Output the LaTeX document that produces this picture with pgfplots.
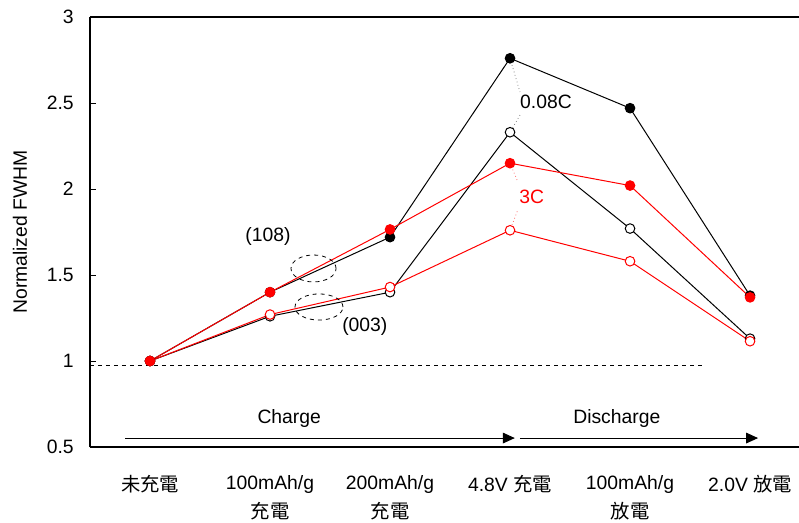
\documentclass[border=0pt]{standalone}
\usepackage{pgfplots}
\pgfplotsset{compat=1.18}
\usepackage{fontspec}
\setmainfont{Liberation Sans}
\newfontfamily\cjk{Noto Sans CJK TC}
\usetikzlibrary{arrows.meta}
\newcommand{\myfont}{\fontsize{14.5}{21.4}\selectfont}
\begin{document}
\begin{tikzpicture}[font=\myfont]
\begin{axis}[
  scale only axis,
  width=531.75pt, height=322.5pt,
  xmin=-0.5, xmax=5.408,
  ymin=0.5, ymax=3,
  axis x line*=bottom,
  axis y line*=left,
  axis line style={line width=0.8pt},
  tick align=inside,
  ytick={0.5,1,1.5,2,2.5,3},
  major tick length=4.5pt,
  xtick={0,1,2,3,4,5},
  x tick style={draw=none},
  minor xtick={0.5,1.5,2.5,3.5,4.5},
  minor tick length=6pt,
  minor x tick style={line width=0.5pt, black},
  y tick style={line width=0.6pt, black},
  xticklabels={{\cjk 未充電}, {100mAh/g\\\cjk 充電}, {200mAh/g\\\cjk 充電}, {4.8V {\cjk 充電}}, {100mAh/g\\\cjk 放電}, {2.0V {\cjk 放電}}},
  xticklabel style={align=center, font=\myfont, anchor=north, yshift=-18pt},
  yticklabel style={font=\myfont, xshift=-8.7pt},
  /pgf/number format/assume math mode=true,
  ylabel={Normalized FWHM},
  every axis y label/.style={at={(rel axis cs:-0.0987,0.5)}, anchor=center, rotate=90, font=\myfont},
  clip=false,
]
\coordinate (bb1) at (rel axis cs:0,0);
\coordinate (bb2) at (rel axis cs:1,1);
\draw[line width=0.8pt] (rel axis cs:0,1) -- (rel axis cs:1,1);

% reference dashed line
\addplot[black, dashed, line width=0.6pt, forget plot] coordinates {(-0.5,0.977) (4.625,0.977)};

% 0.08C (003) open
\addplot[black, line width=0.75pt, mark=*, mark size=3.6pt, mark options={fill=white}] coordinates {
 (0,1.00) (1,1.26) (2,1.40) (3,2.33) (4,1.77) (5,1.13)};
% 3C (003) open
\addplot[red, line width=0.75pt, mark=*, mark size=3.6pt, mark options={fill=white}] coordinates {
 (0,1.00) (1,1.27) (2,1.43) (3,1.76) (4,1.58) (5,1.115)};
% 0.08C (108) filled
\addplot[black, line width=0.75pt, mark=*, mark size=3.6pt, mark options={fill=black}] coordinates {
 (0,1.00) (1,1.40) (2,1.72) (3,2.76) (4,2.47) (5,1.38)};
% 3C (108) filled
\addplot[red, line width=0.75pt, mark=*, mark size=3.6pt, mark options={fill=red}] coordinates {
 (0,1.00) (1,1.40) (2,1.765) (3,2.15) (4,2.02) (5,1.37)};

% annotations
\draw[gray, dotted, line width=0.6pt] (axis cs:3,2.76) -- (axis cs:3.083,2.564);
\draw[gray, dotted, line width=0.6pt] (axis cs:3.083,2.43) -- (axis cs:3,2.33);
\node[font=\myfont] at (axis cs:3.30,2.506) {0.08C};
\draw[red!60, dotted, line width=0.6pt] (axis cs:3,2.15) -- (axis cs:3.06,2.05);
\draw[red!60, dotted, line width=0.6pt] (axis cs:3.06,1.87) -- (axis cs:3,1.76);
\node[font=\myfont, text=red] at (axis cs:3.18,1.953) {3C};

\draw[dashed, line width=0.6pt] (axis cs:1.3625,1.538) ellipse [x radius=16.9pt, y radius=10.1pt];
\draw[dashed, line width=0.6pt] (axis cs:1.408,1.314) ellipse [x radius=18pt, y radius=9.8pt];
\node[font=\myfont] at (axis cs:0.983,1.721) {(108)};
\node[font=\myfont] at (axis cs:1.79,1.203) {(003)};

\draw[line width=0.75pt, -{Triangle[length=9pt,width=8pt]}] (axis cs:-0.208,0.552) -- (axis cs:3.04,0.552);
\draw[line width=0.75pt, -{Triangle[length=9pt,width=8pt]}] (axis cs:3.083,0.552) -- (axis cs:5.067,0.552);
\node[font=\myfont] at (axis cs:1.16,0.663) {Charge};
\node[font=\myfont] at (axis cs:3.89,0.663) {Discharge};
\end{axis}
\pgfresetboundingbox
\path[use as bounding box] ([xshift=-67.5pt,yshift=-56.25pt]bb1) rectangle ([yshift=12.75pt]bb2);
\end{tikzpicture}
\end{document}
